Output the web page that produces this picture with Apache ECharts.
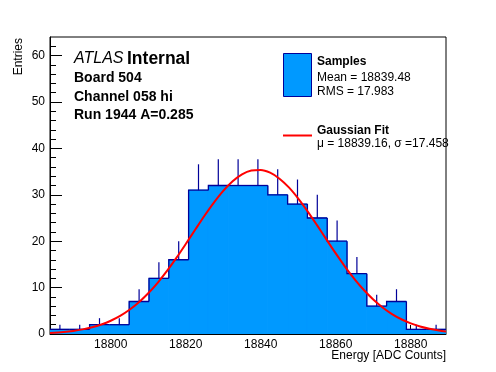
<!DOCTYPE html>
<html>
<head>
<meta charset="utf-8">
<script src="https://cdn.jsdelivr.net/npm/echarts@6/dist/echarts.min.js"></script>
<style>
html,body{margin:0;padding:0;background:#fff;}
#chart{width:496px;height:372px;}
</style>
</head>
<body>
<div id="chart"></div>
<script>
// ---- data ----
const binEdges = [18783.80, 18789.08, 18794.36, 18799.64, 18804.92, 18810.20, 18815.48, 18820.76, 18826.04, 18831.32, 18836.60,
                  18841.88, 18847.16, 18852.44, 18857.72, 18863.00, 18868.28, 18873.56, 18878.84, 18884.12, 18889.40];
const counts = [1, 1, 2, 2, 7, 12, 16, 31, 32, 32, 32, 30, 28, 25, 20, 13, 6, 7, 1, 1];
const errors = [1, 1, 1.41, 1.41, 2.65, 3.46, 4, 5.57, 5.66, 5.66, 5.66, 5.48, 5.29, 5, 4.47, 3.61, 2.45, 2.65, 1, 1];
const fitX = [18783.8, 18787.5, 18790, 18792.5, 18795, 18797.5, 18800, 18802.5, 18805, 18807.5, 18810, 18812.5, 18815, 18817.5,
              18820, 18822.5, 18825, 18827.5, 18830, 18832.5, 18835, 18837.5, 18840, 18842.5, 18845, 18847.5, 18850, 18852.5,
              18855, 18857.5, 18860, 18862.5, 18865, 18867.5, 18870, 18872.5, 18875, 18877.5, 18880, 18882.5, 18885, 18887.5, 18889.4];
const fitY = [0.23, 0.44, 0.67, 1.00, 1.44, 2.05, 2.86, 3.90, 5.22, 6.84, 8.77, 11.03, 13.59, 16.40,
              19.39, 22.45, 25.48, 28.32, 30.85, 32.91, 34.41, 35.24, 35.36, 34.76, 33.47, 31.59, 29.19, 26.44,
              23.46, 20.39, 17.36, 14.48, 11.84, 9.48, 7.44, 5.72, 4.30, 3.18, 2.29, 1.62, 1.13, 0.77, 0.56];
const xTickLabels = [18800, 18820, 18840, 18860, 18880];
const xMinorTicks = [18785, 18790, 18795, 18805, 18810, 18815, 18825, 18830, 18835, 18845, 18850, 18855, 18865, 18870, 18875, 18885];
const yTickLabels = [0, 10, 20, 30, 40, 50, 60];
const yMinorTicks = [2, 4, 6, 8, 12, 14, 16, 18, 22, 24, 26, 28, 32, 34, 36, 38, 42, 44, 46, 48, 52, 54, 56, 58, 62];
const xRange = [18783.8, 18889.4];
const yRange = [0, 64];
const legendSamples = ['Samples', 'Mean = 18839.48', 'RMS = 17.983'];
const legendFit = ['Gaussian Fit', '\u03bc = 18839.16, \u03c3 =17.458'];
const infoLines = ['Board 504', 'Channel 058 hi', 'Run 1944 A=0.285'];

// ---- build ----
const FONT = 'Liberation Sans, Arial, Helvetica, sans-serif';
const FILL = '#0099ff';
const EDGE = '#000099';
const histData = counts.map((c, i) => [binEdges[i], binEdges[i + 1], c, errors[i], i > 0 ? counts[i - 1] : c]);

const chart = echarts.init(document.getElementById('chart'), null, {renderer: 'canvas'});

const axisBase = {
  type: 'value', splitLine: {show: false}, axisLine: {show: true, lineStyle: {color: '#000', width: 1}}
};

function txt(x, y, text, font, align) {
  return {type: 'text', x: x, y: y, z: 10,
          style: {text: text, font: font, fill: '#000', align: align || 'left', verticalAlign: 'middle'}};
}

chart.setOption({
  animation: false,
  backgroundColor: '#fff',
  grid: {left: 50, right: 50, top: 37, bottom: 38, show: true, borderColor: '#000', borderWidth: 1, backgroundColor: 'transparent'},
  xAxis: [
    Object.assign({}, axisBase, {
      min: xRange[0], max: xRange[1], position: 'bottom',
      axisTick: {show: true, inside: true, length: 9, customValues: xTickLabels, lineStyle: {color: '#000'}},
      axisLabel: {show: true, customValues: xTickLabels, formatter: v => String(v), color: '#000', fontSize: 12, fontFamily: FONT, margin: 5}
    }),
    Object.assign({}, axisBase, {
      min: xRange[0], max: xRange[1], position: 'bottom', offset: 0,
      axisLine: {show: false},
      axisTick: {show: true, inside: true, length: 4.5, customValues: xMinorTicks, lineStyle: {color: '#000'}},
      axisLabel: {show: false}
    })
  ],
  yAxis: [
    Object.assign({}, axisBase, {
      min: yRange[0], max: yRange[1], position: 'left',
      axisTick: {show: true, inside: true, length: 12, customValues: yTickLabels, lineStyle: {color: '#000'}},
      axisLabel: {show: true, customValues: yTickLabels, formatter: v => String(v), color: '#000', fontSize: 12, fontFamily: FONT, margin: 5}
    }),
    Object.assign({}, axisBase, {
      min: yRange[0], max: yRange[1], position: 'left', offset: 0,
      axisLine: {show: false},
      axisTick: {show: true, inside: true, length: 6, customValues: yMinorTicks, lineStyle: {color: '#000'}},
      axisLabel: {show: false}
    })
  ],
  series: [
    {
      type: 'custom', xAxisIndex: 0, yAxisIndex: 0, data: histData, clip: true, z: 2,
      renderItem: function (params, api) {
        const lo = api.value(0), hi = api.value(1), c = api.value(2);
        const p0 = api.coord([lo, c]);
        const p1 = api.coord([hi, 0]);
        return {type: 'rect', shape: {x: p0[0], y: p0[1], width: p1[0] - p0[0], height: p1[1] - p0[1]},
                style: {fill: FILL, stroke: FILL, lineWidth: 1}};
      }
    },
    {
      type: 'custom', xAxisIndex: 0, yAxisIndex: 0, data: histData, clip: true, z: 3,
      renderItem: function (params, api) {
        const lo = api.value(0), hi = api.value(1), c = api.value(2), e = api.value(3), prev = api.value(4);
        const a = api.coord([lo, prev]);
        const b = api.coord([lo, c]);
        const d = api.coord([hi, c]);
        const mid = (lo + hi) / 2;
        const e0 = api.coord([mid, c]);
        const e1 = api.coord([mid, c + e]);
        return {type: 'group', children: [
          {type: 'polyline', shape: {points: [a, b, d]}, style: {stroke: EDGE, lineWidth: 1.3, fill: null}},
          {type: 'line', shape: {x1: e0[0], y1: e0[1], x2: e1[0], y2: e1[1]}, style: {stroke: EDGE, lineWidth: 1.2}}
        ]};
      }
    },
    {
      type: 'line', xAxisIndex: 0, yAxisIndex: 0, z: 4,
      data: fitX.map((x, i) => [x, fitY[i]]),
      smooth: 0.3, symbol: 'none', clip: true,
      lineStyle: {color: '#ff0000', width: 2}
    }
  ],
  graphic: [
    txt(74, 59, 'ATLAS', 'italic 16px ' + FONT),
    txt(127, 59, 'Internal', 'bold 17.5px ' + FONT),
    txt(74, 78, infoLines[0], 'bold 14px ' + FONT),
    txt(74, 97, infoLines[1], 'bold 14px ' + FONT),
    txt(74, 115, infoLines[2], 'bold 14px ' + FONT),
    {type: 'rect', shape: {x: 283.5, y: 53.5, width: 28, height: 43}, style: {fill: FILL, stroke: EDGE, lineWidth: 1}, z: 10},
    txt(317, 62, legendSamples[0], 'bold 12px ' + FONT),
    txt(317, 77.5, legendSamples[1], '12px ' + FONT),
    txt(317, 92, legendSamples[2], '12px ' + FONT),
    {type: 'line', shape: {x1: 283, y1: 135.5, x2: 312, y2: 135.5}, style: {stroke: '#ff0000', lineWidth: 2}, z: 10},
    txt(317, 130.5, legendFit[0], 'bold 12px ' + FONT),
    txt(317, 143.5, legendFit[1], '12px ' + FONT),
    {type: 'text', x: 19, y: 38, rotation: Math.PI / 2, z: 10,
     style: {text: 'Entries', font: '12px ' + FONT, fill: '#000', align: 'right', verticalAlign: 'middle'}},
    txt(446, 356, 'Energy [ADC Counts]', '12px ' + FONT, 'right')
  ]
});
</script>
</body>
</html>
